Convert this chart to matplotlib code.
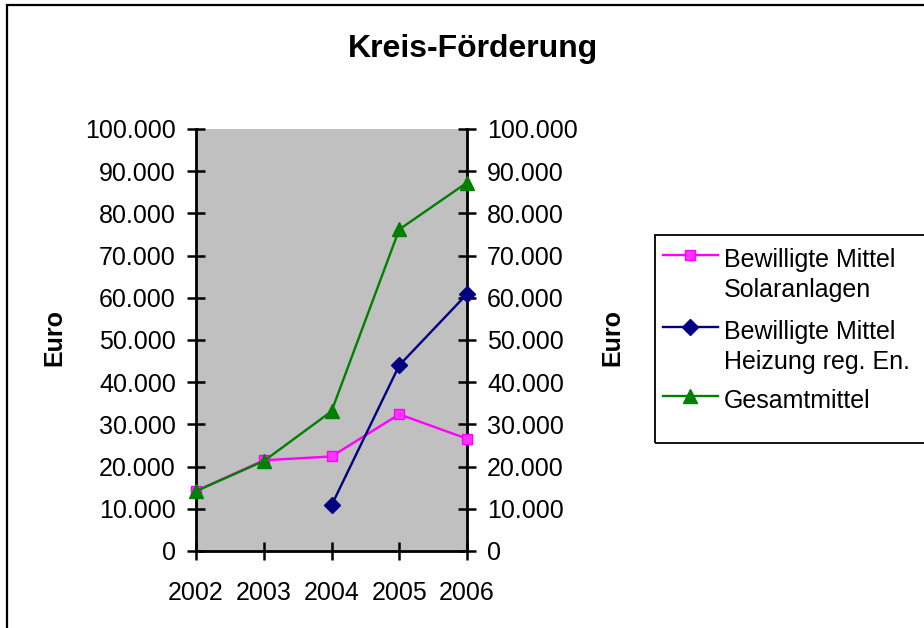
import matplotlib.pyplot as plt
from matplotlib.ticker import FuncFormatter, MultipleLocator
from matplotlib.patches import Rectangle
from matplotlib.lines import Line2D

plt.rcParams['font.family'] = ['Liberation Sans', 'DejaVu Sans']

years = ["2002", "2003", "2004", "2005", "2006"]
solar = [14200, 21500, 22400, 32400, 26600]
heizung = [None, None, 10800, 44000, 60900]
gesamt = [14200, 21300, 33100, 76200, 87300]
labels = ["Bewilligte Mittel\nSolaranlagen", "Bewilligte Mittel\nHeizung reg. En.", "Gesamtmittel"]

W, H = 924, 628


def fx(px):
    return px / W


def fy(py):
    return 1 - py / H


def fmt(v, pos):
    return f"{int(v):,}".replace(",", ".")


fig = plt.figure(figsize=(W / 100, H / 100), dpi=100)
# outer chart border (runs off the right and bottom edge)
fig.patches.append(Rectangle((fx(7), -0.1), 2, fy(5) + 0.1, transform=fig.transFigure,
                             fill=False, edgecolor="black", lw=1.6))

ax = fig.add_axes([fx(196), fy(551), fx(467) - fx(196), fy(129) - fy(551)])
ax.set_facecolor("#c0c0c0")
x = list(range(len(years)))
h_x = [i for i, v in zip(x, heizung) if v is not None]
h_y = [v for v in heizung if v is not None]

styles = [
    dict(color="#ff00ff", marker="s", markersize=7.5, markerfacecolor="#ff33ff",
         markeredgecolor="#ff00ff", lw=1.7),
    dict(color="#000080", marker="D", markersize=8, lw=1.7),
    dict(color="#008000", marker="^", markersize=9.5, lw=1.7),
]
ax.plot(x, solar, clip_on=False, zorder=3, **styles[0])
ax.plot(h_x, h_y, clip_on=False, zorder=4, **styles[1])
ax.plot(x, gesamt, clip_on=False, zorder=5, **styles[2])

ax.set_xlim(0, 4)
ax.set_ylim(0, 100000)
ax.set_xticks(x)
ax.set_xticklabels(years)
ax.yaxis.set_major_locator(MultipleLocator(10000))
ax.yaxis.set_major_formatter(FuncFormatter(fmt))
ax.tick_params(axis="both", direction="inout", length=13, width=1.8, labelsize=18, pad=8)
ax.tick_params(axis="y", right=True, labelright=True)
ax.tick_params(axis="x", pad=15)
ax.spines["top"].set_visible(False)
for s in ["left", "bottom", "right"]:
    ax.spines[s].set_linewidth(2)

fig.text(fx(54), fy(338), "Euro", fontsize=18, fontweight="bold", rotation=90,
         ha="center", va="center")
fig.text(fx(612), fy(338), "Euro", fontsize=18, fontweight="bold", rotation=90,
         ha="center", va="center")
fig.text(fx(473), fy(57), "Kreis-Förderung", fontsize=23, fontweight="bold",
         ha="center", va="baseline")

# legend box in Excel style (marker level with the first text line)
fig.patches.append(Rectangle((fx(655), fy(443)), 2, fy(235) - fy(443), transform=fig.transFigure,
                             fill=False, edgecolor="black", lw=1.3))
rows = [255, 327, 396]
for lab, st, ry in zip(labels, styles, rows):
    fig.add_artist(Line2D([fx(663), fx(690), fx(718)], [fy(ry)] * 3, transform=fig.transFigure,
                          markevery=[1], **st))
    for k, line in enumerate(lab.split("\n")):
        fig.text(fx(724), fy(ry + 12 + 30 * k), line, fontsize=18, ha="left", va="baseline")

fig.savefig("out.png", dpi=100)
